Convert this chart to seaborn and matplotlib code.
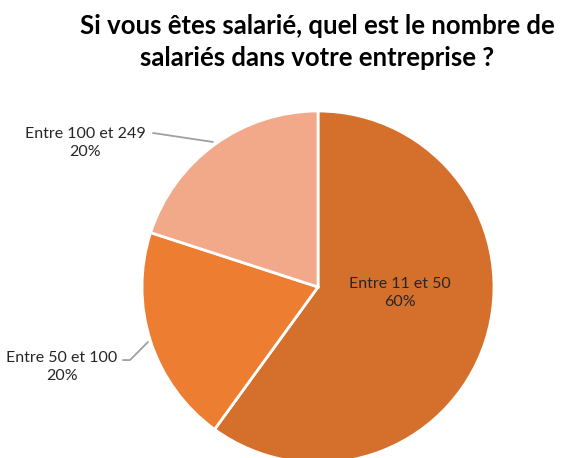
import matplotlib
matplotlib.use("Agg")
from matplotlib import pyplot as plt
import seaborn as sns

# données
categories = ['Entre 11 et 50', 'Entre 50 et 100', 'Entre 100 et 249']
valeurs = [60, 20, 20]
couleurs = ['#D4702B', '#ED7D31', '#F2A98A']

sns.set_theme(style='white')
plt.rcParams['font.family'] = ['Lato', 'DejaVu Sans']

fig = plt.figure(figsize=(5.64, 4.58), dpi=100)
ax = fig.add_axes([142 / 564, -5 / 458, 352 / 564, 352 / 458])

wedges, _ = ax.pie(valeurs, colors=couleurs, startangle=90, counterclock=False,
                   radius=1, wedgeprops=dict(edgecolor='white', linewidth=2))
ax.set_xlim(-1, 1)
ax.set_ylim(-1, 1)
ax.set_aspect('equal')
ax.axis('off')
for w in wedges:
    w.set_clip_on(False)

etiquettes = [f'{c}\n{v}%' for c, v in zip(categories, valeurs)]
gris = '#A0A0A0'
txt = '#262626'

ax.text(0.466, -0.034, etiquettes[0], ha='center', va='center', fontsize=11.5,
        color=txt, linespacing=1.3)
ax.text(-1.455, -0.455, etiquettes[1], ha='center', va='center', fontsize=11.5,
        color=txt, linespacing=1.3, clip_on=False)
ax.plot([-1.108, -1.068, -0.966], [-0.415, -0.415, -0.3125], color=gris, lw=1.3,
        clip_on=False)
ax.text(-1.324, 0.818, etiquettes[2], ha='center', va='center', fontsize=11.5,
        color=txt, linespacing=1.3, clip_on=False)
ax.plot([-0.9375, -0.597], [0.875, 0.824], color=gris, lw=1.3, clip_on=False)

fig.text(317 / 564, 1 - 42 / 458,
         'Si vous êtes salarié, quel est le nombre de\nsalariés dans votre entreprise ?',
         ha='center', va='center', fontsize=18.5, fontweight='bold', color='black',
         linespacing=1.4)

fig.savefig('out.png', dpi=100)
